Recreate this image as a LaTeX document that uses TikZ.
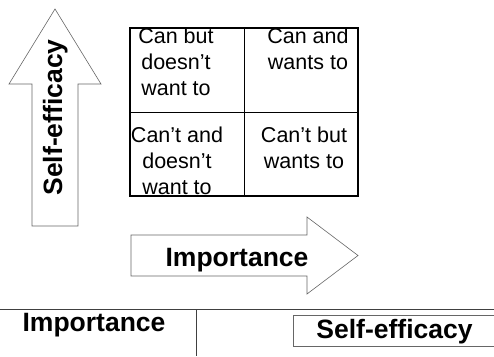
\documentclass[tikz,border=0pt]{standalone}
\usepackage{fontspec}
\setmainfont{Liberation Sans}
\usepackage{tikz}

\tikzset{
  arrowline/.style={draw=black!60, line width=0.6pt},
  gridline/.style={draw=black, line width=0.7pt},
  celltext/.style={inner sep=0pt, anchor=north, align=center,
    font=\fontsize{21.5}{26}\selectfont},
  bigword/.style={inner sep=0pt, anchor=base,
    font=\fontsize{26.5}{30}\selectfont\bfseries},
}

\begin{document}
\begin{tikzpicture}[x=1pt, y=1pt]
  \useasboundingbox (0,0) rectangle (494,356);

  % Arrows
  \draw[arrowline] (32,130) -- (32,272) -- (9,272) -- (55,347)
    -- (101,272) -- (78,272) -- (78,130) -- cycle;
  \draw[arrowline] (131,80) -- (307,80) -- (307,62) -- (358,100.5)
    -- (307,139) -- (307,121) -- (131,121) -- cycle;
  \node[bigword, rotate=90] (eff) at (62,238.5) {Self-efficacy};
  \node[bigword] (imp) at (237,90) {Importance};

  % Quadrants
  \draw[gridline] (244,160) -- (244,328);
  \draw[gridline] (130,244) -- (358,244);
  \draw[gridline, line width=1.3pt] (130,160) rectangle (358,328);
  \node[celltext] (tl) at (176,328.5) {Can but\\doesn’t\\want to};
  \node[celltext] (tr) at (308,328.5) {Can and\\wants to};
  \node[celltext] (bl) at (177,229.5) {Can’t and\\doesn’t\\want to};
  \node[celltext] (br) at (304,229.5) {Can’t but\\wants to};

  % Bottom row
  \coordinate (rowL) at (0,47);
  \coordinate (rowR) at (494,47);
  \coordinate (divT) at (196,47);
  \coordinate (divB) at (196,0);
  \draw[draw=black!75, line width=0.9pt] (rowL) -- (rowR);
  \draw[draw=black!75, line width=0.9pt] (divT) -- (divB);
  \draw[arrowline] (500,10) -- (293,10) -- (293,41) -- (500,41);
  \node[bigword] (impB) at (94,25) {Importance};
  \node[bigword] (effB) at (394.5,18) {Self-efficacy};
\end{tikzpicture}
\end{document}
